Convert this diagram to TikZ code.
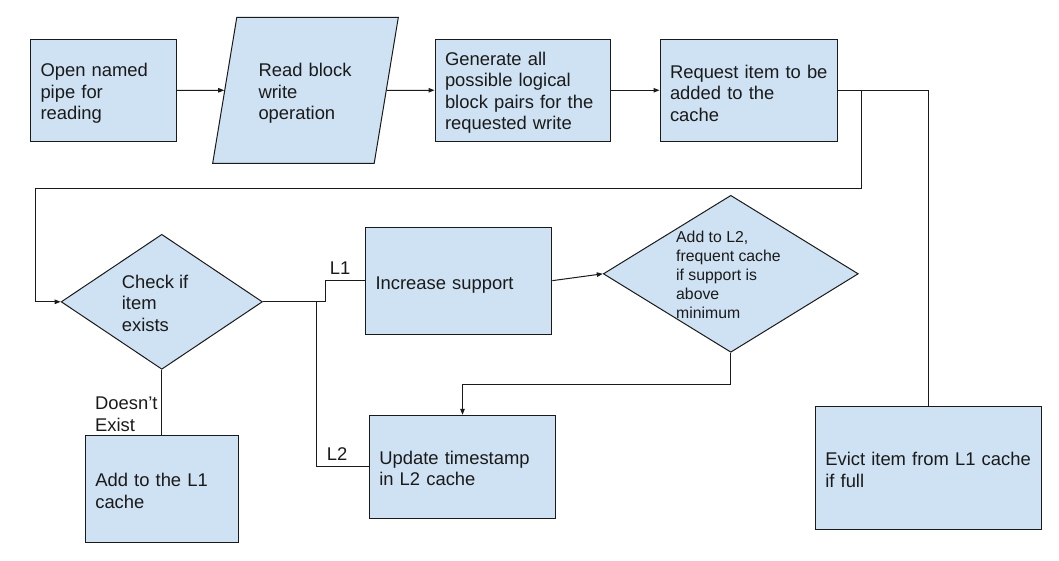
\documentclass[tikz,border=0pt]{standalone}
\usepackage{fontspec}
\setmainfont{Liberation Sans}
\usetikzlibrary{shapes.geometric,arrows.meta}
\definecolor{boxfill}{HTML}{CFE2F3}
\definecolor{ink}{HTML}{1A1A1A}
\newcommand{\tsft}[1]{\rule{0pt}{#1pt}}
\begin{document}
\begin{tikzpicture}[x=1pt,y=-1pt,
  font=\fontsize{18.4}{21.5}\selectfont,
  proc/.style={draw=ink, line width=1pt, fill=boxfill, align=left, inner xsep=10pt, inner ysep=0pt, text=ink},
  para/.style={draw=ink, line width=1pt, fill=boxfill, trapezium, trapezium left angle=76, trapezium right angle=104, trapezium stretches=true, inner sep=0pt, align=left, text=ink},
  dec/.style={draw=ink, line width=1pt, fill=boxfill, diamond, inner sep=0pt},
  lbl/.style={align=left, inner sep=0pt, text=ink},
  conn/.style={draw=ink, line width=1pt},
  arr/.style={conn, -{Triangle[length=6pt,width=4.5pt]}}
]
\useasboundingbox (0,0) rectangle (1059,560);

% top row
\node[proc, minimum width=146pt, minimum height=101.5pt, text width=126pt] (A) at (103.5,90.25) {\tsft{19.4}Open named\\pipe for\\reading};
\node[para, minimum width=186pt, minimum height=146pt, text width=94pt] (B) at (305.5,90.3) {\tsft{19.4}Read block\\write\\operation};
\node[proc, minimum width=175.5pt, minimum height=101.5pt, text width=155.5pt] (C) at (522.75,90.25) {\tsft{18.4}Generate all\\possible logical\\block pairs for the\\requested write};
\node[proc, minimum width=177pt, minimum height=101.5pt, text width=157pt] (D) at (748.5,90.25) {\tsft{19.4}\mbox{Request item to be}\\added to the\\cache};

% decision 1
\node[dec, minimum width=201.3pt, minimum height=135pt] (E) at (161.8,301.8) {};
\node[lbl, anchor=west] (Et) at (121.7,303) {Check if\\item\\exists};

% middle
\node[proc, minimum width=186.3pt, minimum height=106.7pt, text width=166.3pt] (F) at (458.65,280.65) {\tsft{22.4}Increase support};
\node[dec, minimum width=255pt, minimum height=157pt] (H) at (730.8,273.8) {};
\node[lbl, anchor=west, font=\fontsize{15.8}{19}\selectfont] (Ht) at (676,275.2) {Add to L2,\\frequent cache\\if support is\\above\\minimum};

% bottom
\node[proc, minimum width=153.5pt, minimum height=107pt, text width=133.5pt] (L) at (162.05,488.8) {\tsft{17.4}Add to the L1\\cache};
\node[proc, minimum width=186.4pt, minimum height=103pt, text width=166.4pt] (G) at (462.5,466.8) {\tsft{16.4}Update timestamp\\in L2 cache};
\node[proc, minimum width=226.4pt, minimum height=122.6pt, text width=206.4pt] (V) at (928.5,468) {\tsft{17.4}Evict item from L1 cache\\if full};

% labels
\node[lbl] (l1lab) at (340,268.3) {L1};
\node[lbl] (l2lab) at (337,454.3) {L2};
\node[lbl, anchor=west] (dlab) at (94.9,414.2) {Doesn’t\\Exist};

% helper corners
\coordinate (r1) at (861.3,188.5);
\coordinate (l1) at (35.2,188.5);

% connectors
\draw[arr] (A.east) -- (B.west);
\draw[arr] (B.east) -- (C.west);
\draw[arr] (C.east) -- (D.west);
\draw[conn] (D.east) -| (V.north);
\draw[arr] (D.east) -| (r1) -- (l1) |- (E.west);
\draw[conn] (E.east) -- ++(63,0) |- (F.west);
\draw[conn] (E.east) -- ++(54,0) |- (G.west);
\draw[conn] (E.south) -- (E.south |- L.north);
\draw[arr] (F.east) -- (H.west);
\draw[arr] (H.south) -- ++(0,31.7) -| (G.north);
\end{tikzpicture}
\end{document}
